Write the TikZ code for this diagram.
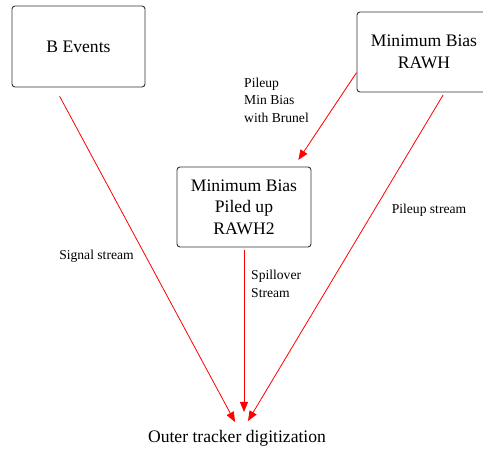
\documentclass[tikz,border=0pt]{standalone}
\usepackage{fontspec}
\setmainfont{Liberation Serif}
\usepackage{tikz}
\usetikzlibrary{arrows.meta}
\definecolor{boxline}{HTML}{333333}
\definecolor{streamred}{HTML}{FF0000}

\begin{document}
\begin{tikzpicture}[x=1pt,y=-1pt,>={Triangle[length=10pt,width=8pt]},
        box/.style={draw=boxline,rounded corners=3pt,line width=0.9pt,align=center,font=\fontsize{17.6}{21.5}\selectfont},
        lbl/.style={inner sep=0pt,align=left,font=\fontsize{13.6}{17.5}\selectfont},
        flow/.style={->,draw=streamred,line width=0.8pt}]
        \clip (0,0) rectangle (483,449);
        \node[box,minimum width=133pt,minimum height=81pt] (b) at (78.5,46.5) {B Events};
        \node[box,minimum width=134pt,minimum height=80pt] (m) at (424,52) {Minimum Bias\\RAWH};
        \node[box,minimum width=134pt,minimum height=80pt] (p) at (244,207) {Minimum Bias\\Piled up\\RAWH2};
        \node[inner sep=0pt,anchor=base,font=\fontsize{17.6}{21.5}\selectfont] (o) at (237,443) {Outer tracker digitization};
        % arrows stop just above the digitization label
        \coordinate (oL) at (235,422);
        \coordinate (oM) at (244,412);
        \coordinate (oR) at (248,421);
        \node[lbl] (sig) at (96.5,256) {Signal stream};
        \node[lbl] (pil) at (429,210) {Pileup stream};
        \node[lbl,anchor=west] (spl) at (251,284) {Spillover\\Stream};
        \node[lbl,anchor=west] (brn) at (244,100) {Pileup\\Min Bias\\with Brunel};
        \draw[flow,shorten <=10pt] (b.240) -- (oL);
        \draw[flow,shorten >=8pt] (m.197) -- (p.39);
        \draw[flow,shorten <=3pt] (m.297) -- (oR);
        \draw[flow,shorten <=3pt] (p.south) -- (oM);
      \end{tikzpicture}
\end{document}
